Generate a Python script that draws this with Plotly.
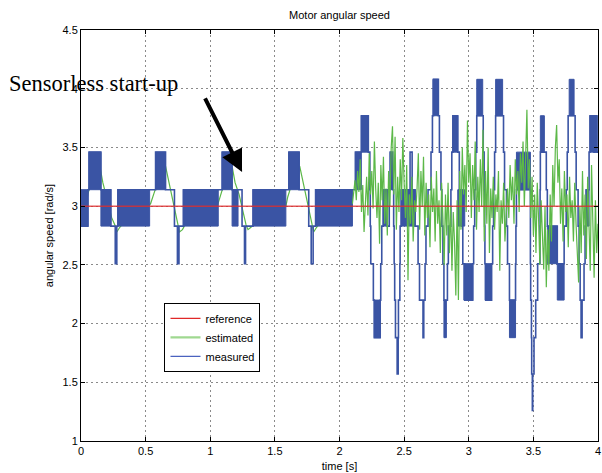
import numpy as np
import plotly.graph_objects as go

# ---------------- data ----------------
# reference speed
ref_t = [0.0, 4.0]
ref_v = [3.0, 3.0]

# measured speed: step breakpoints (value holds until next time)
meas_t = [0.000, 0.054, 0.062, 0.154, 0.231, 0.265, 0.277, 0.285, 0.577, 0.654,
          0.723, 0.746, 0.758, 0.792, 1.092, 1.169, 1.246, 1.265, 1.273, 1.331,
          1.608, 1.688, 1.762, 1.781, 1.796, 1.815,
          2.123, 2.169, 2.223, 2.235, 2.238, 2.242, 2.262, 2.269, 2.315, 2.319,
          2.327, 2.338, 2.369, 2.385, 2.392, 2.412, 2.419, 2.423, 2.427, 2.433,
          2.446, 2.454, 2.456, 2.467, 2.469, 2.477, 2.546, 2.562, 2.585, 2.608,
          2.619, 2.646, 2.652, 2.662, 2.669, 2.685, 2.708, 2.719, 2.727, 2.765,
          2.773, 2.785, 2.792, 2.800, 2.808, 2.835, 2.842, 2.862, 2.869, 2.877,
          2.915, 2.927, 2.946, 2.954, 2.969, 3.031, 3.038, 3.046, 3.054, 3.062,
          3.112, 3.119, 3.123, 3.125, 3.131, 3.177, 3.185, 3.192, 3.200, 3.208,
          3.269, 3.277, 3.292, 3.300, 3.315, 3.362, 3.365, 3.369, 3.477, 3.479,
          3.485, 3.487, 3.492, 3.495, 3.505, 3.518, 3.533, 3.551, 3.552, 3.554,
          3.600, 3.608, 3.685, 3.738, 3.754, 3.762, 3.769, 3.823, 3.831, 3.846,
          3.854, 3.862, 3.869, 3.877, 3.892, 3.900, 3.908, 3.931, 3.938, 3.969,
          3.977, 3.992, 4.000]
meas_v = [2.83, 3.14, 3.46, 3.14, 2.83, 2.51, 2.83, 3.14, 3.46, 3.14,
          2.83, 2.51, 2.83, 3.14, 3.46, 3.14, 2.83, 2.51, 2.83, 3.14,
          3.46, 3.14, 2.83, 2.51, 2.83, 3.14,
          3.46, 3.77, 3.46, 3.14, 2.83, 2.51, 2.20, 1.88, 2.20, 2.51,
          2.83, 3.14, 2.83, 3.14, 3.46, 3.14, 2.83, 2.51, 2.20, 1.88,
          1.57, 1.88, 2.20, 2.51, 2.83, 3.14, 3.46, 3.14, 2.83, 2.51,
          2.20, 1.88, 2.20, 2.51, 2.83, 3.14, 3.46, 3.77, 4.08, 3.77,
          3.46, 3.14, 2.83, 2.51, 2.20, 2.51, 2.83, 3.14, 3.46, 3.77,
          3.46, 3.14, 2.83, 2.51, 2.20, 2.51, 2.83, 3.14, 3.46, 3.77,
          3.46, 3.14, 2.83, 2.51, 2.20, 2.51, 2.83, 3.14, 3.46, 3.77,
          3.46, 3.14, 2.83, 2.51, 2.20, 2.51, 2.83, 3.14, 2.51, 2.20,
          1.88, 1.57, 1.26, 1.57, 1.88, 2.20, 2.51, 2.83, 3.14, 3.46,
          3.14, 2.83, 2.51, 2.83, 3.14, 3.46, 3.77, 3.46, 3.14, 2.83,
          2.51, 2.20, 1.88, 2.20, 2.51, 2.83, 3.14, 3.46, 3.77, 3.46,
          3.77, 3.46, 3.46]

# measured speed: fast-switching intervals (toggling between two levels)
band_t0 = [0.000, 0.062, 0.154, 0.285, 0.577, 0.792, 1.092, 1.169, 1.331, 1.608,
           1.815, 2.123, 2.169, 2.269, 2.338, 2.392, 2.477, 2.723, 2.808, 2.877,
           2.915, 2.962, 3.062, 3.127, 3.208, 3.315, 3.369, 3.554, 3.608, 3.685,
           3.777, 3.908, 3.938, 3.977]
band_t1 = [0.054, 0.154, 0.231, 0.531, 0.654, 1.062, 1.169, 1.215, 1.585, 1.688,
           2.100, 2.169, 2.223, 2.315, 2.369, 2.408, 2.585, 2.762, 2.827, 2.915,
           2.969, 3.031, 3.108, 3.173, 3.262, 3.362, 3.477, 3.585, 3.685, 3.738,
           3.815, 3.931, 3.969, 3.992]
band_lo = [2.83, 3.14, 2.83, 2.83, 3.14, 2.83, 3.14, 2.83, 2.83, 3.14,
           2.83, 3.14, 3.46, 1.88, 2.83, 3.14, 2.83, 3.77, 1.88, 3.46,
           2.83, 2.20, 3.77, 2.20, 3.77, 1.88, 3.14, 3.46, 2.51, 2.20,
           3.77, 2.83, 3.46, 3.46]
band_hi = [3.14, 3.46, 3.14, 3.14, 3.46, 3.14, 3.46, 3.14, 3.14, 3.46,
           3.14, 3.46, 3.77, 2.20, 3.14, 3.46, 3.14, 4.08, 2.20, 3.77,
           3.14, 2.51, 4.08, 2.51, 4.08, 2.20, 3.46, 3.77, 2.83, 2.51,
           4.08, 3.14, 3.77, 3.77]

# estimated speed, sensorless start-up part (0 - 2.1 s)
est1_t = [0.000, 0.038, 0.062, 0.085, 0.115, 0.146, 0.169, 0.192, 0.215, 0.238,
          0.262, 0.277, 0.300, 0.331, 0.377, 0.454, 0.515, 0.538, 0.562, 0.585,
          0.623, 0.654, 0.677, 0.700, 0.723, 0.746, 0.762, 0.785, 0.815, 0.877,
          0.954, 1.054, 1.077, 1.100, 1.138, 1.169, 1.192, 1.223, 1.254, 1.277,
          1.292, 1.315, 1.346, 1.415, 1.585, 1.600, 1.623, 1.662, 1.692, 1.715,
          1.738, 1.762, 1.785, 1.800, 1.823, 1.877, 1.992, 2.100]
est1_v = [3.00, 3.02, 3.14, 3.25, 3.32, 3.34, 3.20, 3.10, 3.00, 2.90,
          2.84, 2.78, 2.82, 2.86, 2.95, 3.00, 3.00, 3.02, 3.10, 3.17,
          3.30, 3.34, 3.22, 3.12, 3.00, 2.86, 2.78, 2.80, 2.86, 2.95,
          3.00, 3.00, 3.08, 3.16, 3.30, 3.34, 3.20, 3.10, 2.95, 2.84,
          2.80, 2.82, 2.86, 2.97, 3.00, 3.08, 3.16, 3.30, 3.34, 3.22,
          3.10, 2.95, 2.84, 2.78, 2.82, 2.90, 2.98, 3.02]

# estimated speed after start-up, sampled every 0.01 s from 2.10 s
est2_start = 2.10
est2_step = 0.01
est2_v = [3.02, 3.10, 3.22, 3.05, 3.30, 3.12, 3.40, 2.95, 3.18, 2.78,
          3.08, 3.25, 2.92, 3.45, 3.10, 3.30, 2.98, 3.55, 3.15, 2.90,
          3.20, 2.68, 3.35, 3.05, 3.42, 2.85, 3.15, 2.75, 3.30, 3.00,
          3.50, 3.68, 3.10, 3.59, 2.80, 3.25, 2.95, 3.40, 3.05, 3.58,
          3.20, 2.90, 3.35, 2.37, 3.10, 2.85, 3.25, 2.70, 3.05, 2.95,
          3.15, 3.45, 2.80, 3.30, 3.00, 3.42, 2.75, 3.20, 2.90, 3.10,
          2.65, 3.25, 2.95, 3.15, 2.70, 3.30, 2.85, 3.05, 2.60, 3.20,
          2.90, 2.50, 3.10, 2.75, 3.20, 2.60, 3.00, 2.45, 2.95, 2.70,
          2.24, 3.05, 2.20, 3.30, 2.80, 3.50, 3.10, 3.35, 2.95, 3.73,
          3.20, 3.45, 2.90, 3.35, 3.05, 3.55, 2.80, 3.25, 2.95, 3.40,
          3.00, 3.65, 2.70, 3.30, 2.85, 3.50, 2.60, 3.15, 2.90, 3.25,
          2.80, 3.10, 2.95, 3.30, 2.45, 3.05, 2.85, 3.20, 2.70, 3.00,
          3.15, 2.90, 3.35, 3.05, 3.25, 2.85, 3.40, 3.10, 3.30, 2.95,
          3.45, 3.20, 3.55, 3.00, 3.35, 3.82, 3.15, 3.40, 2.90, 3.25,
          2.75, 3.10, 2.60, 3.20, 2.90, 2.50, 3.05, 2.70, 2.46, 3.00,
          2.31, 2.80, 2.45, 3.10, 2.70, 3.35, 3.00, 3.50, 3.69, 3.20,
          3.40, 2.85, 3.15, 2.70, 3.30, 2.95, 3.10, 2.65, 3.25, 2.90,
          3.05, 2.70, 3.20, 2.85, 2.50, 2.35, 3.00, 2.60, 3.30, 2.75,
          3.10, 2.55, 3.25, 2.80, 2.45, 3.35, 2.70, 2.39, 3.05, 2.60,
          2.85]

x_ticks = [0, 0.5, 1, 1.5, 2, 2.5, 3, 3.5, 4]
y_ticks = [1, 1.5, 2, 2.5, 3, 3.5, 4, 4.5]
legend_names = ["reference", "estimated", "measured"]

# ---------------- figure ----------------
BLUE = "#3a54a4"
GREEN = "#5cb848"
RED = "rgba(222,45,45,0.8)"
FONT = "Liberation Sans, Arial, sans-serif"

est2_t = np.round(est2_start + est2_step * np.arange(len(est2_v)), 3)

bx, by = [], []
for t0, t1, lo, hi in zip(band_t0, band_t1, band_lo, band_hi):
    bx += [t0, t1, t1, t0, t0, None]
    by += [lo, lo, hi, hi, lo, None]

fig = go.Figure()
fig.add_trace(go.Scatter(x=est1_t, y=est1_v, mode="lines", line=dict(color=GREEN, width=1.2),
                         showlegend=False, hoverinfo="skip"))
fig.add_trace(go.Scatter(x=bx, y=by, mode="lines", fill="toself", fillcolor=BLUE,
                         line=dict(color=BLUE, width=1), showlegend=False, hoverinfo="skip"))
fig.add_trace(go.Scatter(x=meas_t, y=meas_v, mode="lines", line=dict(color=BLUE, width=1.6, shape="hv"),
                         name="measured", showlegend=False))
fig.add_trace(go.Scatter(x=est2_t, y=est2_v, mode="lines", line=dict(color=GREEN, width=1.2),
                         name="estimated", showlegend=False))
fig.add_trace(go.Scatter(x=ref_t, y=ref_v, mode="lines", line=dict(color=RED, width=1.5),
                         name="reference", showlegend=False))

# legend keys
legend_styles = [dict(color="#e02828", width=1.2), dict(color="#9fd890", width=2.2),
                 dict(color="#4a62bf", width=1.2)]
for i, (nm, st) in enumerate(zip(legend_names, legend_styles)):
    fig.add_trace(go.Scatter(x=[None], y=[None], mode="lines", line=st, name=nm,
                             legendrank=i + 1, showlegend=True))

axis_common = dict(showline=True, linecolor="black", linewidth=1, mirror="ticks",
                   ticks="inside", ticklen=4, tickcolor="black",
                   showgrid=True, gridcolor="#8a8a8a", gridwidth=1, griddash="2px,3px",
                   zeroline=False, ticklabeloverflow="allow",
                   tickfont=dict(family=FONT, size=11, color="black"))

fig.update_xaxes(range=[0, 4], tickvals=x_ticks, ticktext=[f"{v:g}" for v in x_ticks],
                 title=dict(text="time [s]", font=dict(family=FONT, size=11, color="black"), standoff=6),
                 **axis_common)
fig.update_yaxes(range=[1, 4.5], tickvals=y_ticks, ticktext=[f"{v:g}" for v in y_ticks],
                 title=dict(text="angular speed [rad/s]", font=dict(family=FONT, size=11, color="black"), standoff=6),
                 **axis_common)

fig.add_annotation(x=1.246, y=3.29, ax=0.954, ay=3.93, xref="x", yref="y", axref="x", ayref="y",
                   text="", showarrow=True, arrowhead=2, arrowsize=1.1, arrowwidth=4, arrowcolor="black",
                   standoff=0, startstandoff=0)
fig.add_annotation(x=-0.144, y=0.869, xref="paper", yref="paper", xanchor="left", yanchor="middle",
                   text="Sensorless start-up", showarrow=False,
                   font=dict(family="Liberation Serif, Times New Roman, serif", size=22.5, color="black"))

fig.update_layout(
    width=602, height=473,
    margin=dict(l=81, r=1, t=30, b=32),
    paper_bgcolor="white", plot_bgcolor="white",
    title=dict(text="Motor angular speed", x=0.5, xref="paper", xanchor="center",
               y=1 - 15 / 473, yanchor="middle", font=dict(family=FONT, size=11, color="black")),
    legend=dict(x=0.1615, y=0.336, xanchor="left", yanchor="top", bgcolor="white",
                bordercolor="black", borderwidth=1, font=dict(family=FONT, size=11, color="black"),
                tracegroupgap=0),
    showlegend=True,
)

fig.write_html("out.html")
